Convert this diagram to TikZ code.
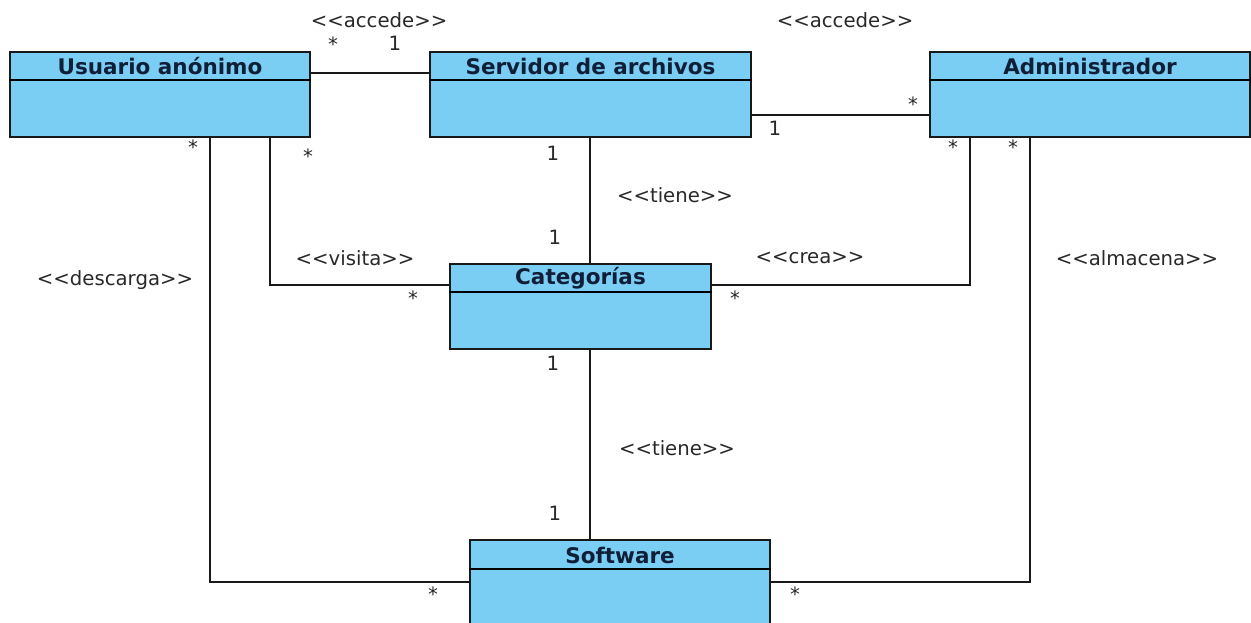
\documentclass[tikz,border=0pt]{standalone}
\usepackage{fontspec}
\setmainfont{DejaVu Sans}
\newfontfamily\titlefont{DejaVu Sans Bold}
\definecolor{clsfill}{RGB}{122,205,243}
\definecolor{titlecol}{RGB}{16,30,55}
\definecolor{labcol}{RGB}{40,40,40}
\newcommand\stereo[1]{<\kern0pt<#1>\kern0pt>}
\begin{document}
\begin{tikzpicture}[x=1pt,y=-1pt,
  cls/.style={draw=black!90, fill=clsfill, line width=1.8pt, minimum height=85pt, inner sep=0pt},
  ttl/.style={font=\titlefont\fontsize{21.5}{23}\selectfont, text=titlecol, inner sep=0pt},
  lab/.style={font=\fontsize{19.7}{21}\selectfont, text=labcol, inner sep=0pt},
  conn/.style={line width=1.8pt, draw=black!90},
  hdr/.style={line width=1.6pt}]
\useasboundingbox (0,0) rectangle (1251,622);
% classes
\node[cls, minimum width=300pt] (usr) at (160,94.5) {};
\node[cls, minimum width=321pt] (srv) at (590.5,94.5) {};
\node[cls, minimum width=320pt] (adm) at (1090,94.5) {};
\node[cls, minimum width=261pt] (cat) at (580.5,306.5) {};
\node[cls, minimum width=300pt] (sw) at (620,582.5) {};
\foreach \n in {usr,srv,adm,cat}{
  \draw[hdr] ([yshift=-29pt]\n.north west) -- ([yshift=-29pt]\n.north east);
}
\draw[hdr] ([yshift=-30pt]sw.north west) -- ([yshift=-30pt]sw.north east);
\node[ttl] (usrT) at ([yshift=-15pt]usr.north) {Usuario anónimo};
\node[ttl] (srvT) at ([yshift=-15pt]srv.north) {Servidor de archivos};
\node[ttl] (admT) at ([yshift=-15pt]adm.north) {Administrador};
\node[ttl] (catT) at ([yshift=-15pt]cat.north) {Categorías};
\node[ttl] (swT) at ([yshift=-16pt]sw.north) {Software};
% connectors
\draw[conn] ([yshift=21.5pt]usr.east) -- ([yshift=21.5pt]srv.west);
\draw[conn] ([yshift=-20.5pt]srv.east) -- ([yshift=-20.5pt]adm.west);
\draw[conn] ([xshift=-0.5pt]srv.south) -- ([xshift=-0.5pt]srv.south |- cat.north);
\draw[conn] ([xshift=110pt]usr.south) |- ([yshift=21.5pt]cat.west);
\draw[conn] ([xshift=-120pt]adm.south) |- ([yshift=21.5pt]cat.east);
\draw[conn] ([xshift=9.5pt]cat.south) -- ([xshift=9.5pt]cat.south |- sw.north);
\draw[conn] ([xshift=50pt]usr.south) |- ([yshift=0.5pt]sw.west);
\draw[conn] ([xshift=-60pt]adm.south) |- ([yshift=0.5pt]sw.east);
% labels
\node[lab] (l1) at (379,20) {\stereo{accede}};
\node[lab] (m1) at (333,44) {*};
\node[lab] (m2) at (395,43) {1};
\node[lab] (l2) at (845,20) {\stereo{accede}};
\node[lab] (m3) at (775,128) {1};
\node[lab] (m4) at (913,104) {*};
\node[lab] (m5) at (193,147) {*};
\node[lab] (m6) at (308,156) {*};
\node[lab] (m7) at (553,153) {1};
\node[lab] (l3) at (675,195) {\stereo{tiene}};
\node[lab] (m8) at (555,237) {1};
\node[lab] (l4) at (355,258) {\stereo{visita}};
\node[lab] (m9) at (413,298) {*};
\node[lab] (l5) at (810,258) {\stereo{crea}};
\node[lab] (m10) at (735,298) {*};
\node[lab] (m11) at (953,147) {*};
\node[lab] (m12) at (1013,147) {*};
\node[lab] (l6) at (1137,258) {\stereo{almacena}};
\node[lab] (l7) at (115,280) {\stereo{descarga}};
\node[lab] (m13) at (553,363) {1};
\node[lab] (l8) at (677,448) {\stereo{tiene}};
\node[lab] (m14) at (555,513) {1};
\node[lab] (m15) at (433,594) {*};
\node[lab] (m16) at (795,594) {*};
\end{tikzpicture}
\end{document}
